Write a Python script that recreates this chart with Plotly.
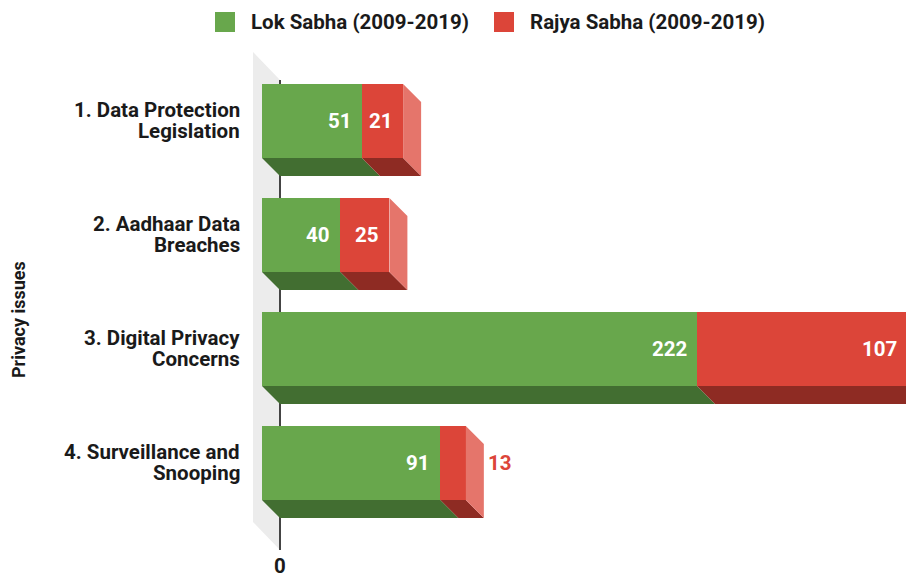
import plotly.graph_objects as go

categories = ['1. Data Protection<br>Legislation', '2. Aadhaar Data<br>Breaches',
              '3. Digital Privacy<br>Concerns', '4. Surveillance and<br>Snooping']
lok_sabha = [51, 40, 222, 91]
rajya_sabha = [21, 25, 107, 13]
series_names = ['Lok Sabha (2009-2019)', 'Rajya Sabha (2009-2019)']

green, green_dark = '#68A74C', '#426E31'
red, red_dark, red_side = '#DC4539', '#8E2B23', '#E5756B'
ink = '#1a1a1a'
font = 'Roboto'
fs = 20.5

# the page puts the figure 8px in from the corner, so the figure is drawn 8px smaller
OFF = 8
W, H = 914 - OFF, 577 - OFF
# plot area in page pixels
left, right, top, bottom = 250, 914, 45, 552
ml, mr, mt, mb = left - OFF, 0, top - OFF, H - (bottom - OFF)
pw, ph = right - left, bottom - top


def xp(p):
    return (p - left) / pw


def yp(p):
    return (bottom - p) / ph


# fake 3d geometry
px_x = 1.96            # px per unit on x
px_y = 114             # px per category
depth_px = 18
dx = depth_px / px_x
dy = depth_px / px_y
bar_w = 74 / px_y
x0 = -(262 - left) / px_x
x1 = x0 + pw / px_x
y_top = -(121 - top) / px_y
y_bot = y_top + ph / px_y

ys = list(range(len(categories)))
fig = go.Figure()

fig.add_trace(go.Bar(y=ys, x=lok_sabha, orientation='h', width=bar_w, name=series_names[0],
                     marker=dict(color=green, line=dict(width=0)), showlegend=False, hoverinfo='skip'))
fig.add_trace(go.Bar(y=ys, x=rajya_sabha, orientation='h', width=bar_w, base=lok_sabha, name=series_names[1],
                     marker=dict(color=red, line=dict(width=0)), showlegend=False, hoverinfo='skip'))


def bottom_faces(starts, ends):
    xs, yy = [], []
    for y, a, b in zip(ys, starts, ends):
        yb = y + bar_w / 2
        xs += [a, b, b + dx, a + dx, a, None]
        yy += [yb, yb, yb + dy, yb + dy, yb, None]
    return xs, yy


ends = [a + b for a, b in zip(lok_sabha, rajya_sabha)]
gx, gy = bottom_faces([0] * len(ys), lok_sabha)
rx, ry = bottom_faces(lok_sabha, ends)
sx, sy = [], []
for y, e in zip(ys, ends):
    yt, yb = y - bar_w / 2, y + bar_w / 2
    sx += [e, e + dx, e + dx, e, e, None]
    sy += [yt, yt + dy, yb + dy, yb, yt, None]

for xs, yy, c in [(gx, gy, green_dark), (rx, ry, red_dark), (sx, sy, red_side)]:
    fig.add_trace(go.Scatter(x=xs, y=yy, fill='toself', fillcolor=c, mode='none',
                             showlegend=False, hoverinfo='skip'))

# back wall and zero line
wall_front = -9 / px_x
wall_dy = 28 / px_y
wt, wb = y_top + 7 / px_y, y_bot - 30 / px_y
fig.add_shape(type='path', layer='below', line=dict(width=0), fillcolor='#ECECEC',
              path=f'M {wall_front},{wt} L {dx},{wt + wall_dy} L {dx},{wb + wall_dy} '
                   f'L {wall_front},{wb} Z')
fig.add_shape(type='line', layer='below', x0=dx, x1=dx, y0=wt + wall_dy, y1=wb + wall_dy,
              line=dict(color='#444444', width=2))

# legend drawn by hand so the swatches can be the same size as the reference
for (sq0, tx), name, c in zip([(215, 250), (494, 529)], series_names, [green, red]):
    fig.add_shape(type='rect', xref='paper', yref='paper', x0=xp(sq0), x1=xp(sq0 + 20),
                  y0=yp(32), y1=yp(12), fillcolor=c, line=dict(width=0))
    fig.add_annotation(x=xp(tx - 1), y=yp(22), xref='paper', yref='paper', text=name, xanchor='left',
                       yanchor='middle', showarrow=False, font=dict(color=ink, size=fs, family=font, weight='bold'))

for y, a, b in zip(ys, lok_sabha, rajya_sabha):
    for start, v in [(0, a), (a, b)]:
        if v * px_x >= 40:
            fig.add_annotation(x=start + v, y=y, text=str(v), xanchor='right', xshift=-8, showarrow=False,
                               font=dict(color='white', size=fs, family=font, weight='bold'))
        else:
            fig.add_annotation(x=start + v + dx, y=y, text=str(v), xanchor='left', xshift=2, showarrow=False,
                               font=dict(color=red, size=fs, family=font, weight='bold'))

for y, cat in zip(ys, categories):
    for line, shift in zip(cat.split('<br>'), [11, -10]):
        fig.add_annotation(x=0, xref='paper', y=y, text=line, xanchor='right', xshift=-8, yshift=shift,
                           showarrow=False, font=dict(color=ink, size=fs, family=font, weight='bold'))

fig.add_annotation(x=dx, y=0, yref='paper', text='0', yanchor='top', yshift=0, showarrow=False,
                   font=dict(color=ink, size=fs, family=font, weight='bold'))
fig.add_annotation(x=xp(18), xref='paper', y=yp(320), yref='paper', text='Privacy issues',
                   textangle=-90, xanchor='center', yanchor='middle', showarrow=False,
                   font=dict(color=ink, size=18, family=font, weight='bold'))

fig.update_layout(
    width=W, height=H, barmode='stack', bargap=0, showlegend=False,
    margin=dict(l=ml, r=mr, t=mt, b=mb, autoexpand=False),
    plot_bgcolor='white', paper_bgcolor='white',
    xaxis=dict(range=[x0, x1], visible=False),
    yaxis=dict(range=[y_bot, y_top], visible=False),
)

fig.write_html('out.html')
